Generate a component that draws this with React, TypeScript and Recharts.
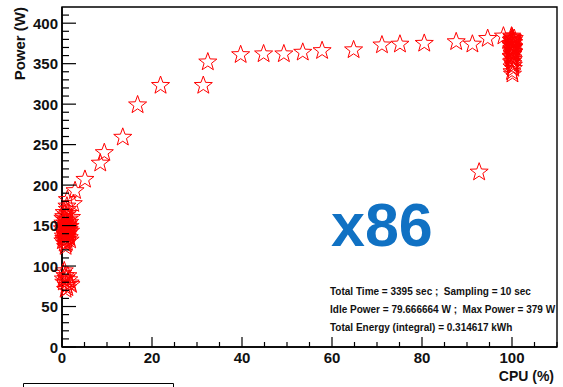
import React from "react";
import { ScatterChart, Scatter, XAxis, YAxis, ReferenceArea } from "recharts";

// Power vs. CPU utilisation samples (x86 node)
const rampCpu = [2.9, 5.1, 8.5, 9.4, 13.5, 16.8, 21.9, 31.4, 32.4, 39.7, 44.8, 49.3, 53.5, 57.8, 64.8, 71.1, 75.1, 80.5, 87.6, 91.2, 94.6, 98.1, 92.7, 1.2, 2.5];
const rampPower = [193, 207, 227, 240, 259, 299, 323, 323, 352, 361, 362, 362, 364, 366, 367, 373, 374, 375, 377, 374, 381, 384, 216, 182, 177];

const idleCpu = [0.3, 0.8, 1.1, 0.5, 1.6, 0.2, 0.9, 1.3, 0.6, 1.8, 0.4, 1.0, 1.4, 0.7, 0.1, 1.2, 1.9, 0.5, 0.8, 1.5, 0.3, 1.1, 0.6, 1.7, 0.9, 0.2, 1.3, 0.4, 1.0, 1.6, 0.7, 1.2, 0.5, 1.4, 0.8, 2.1, 0.3, 1.0, 1.8, 0.6, 1.1, 0.9, 1.5, 0.2, 1.3];
const idlePower = [142, 138, 151, 147, 135, 131, 156, 144, 128, 149, 161, 133, 140, 153, 146, 137, 143, 166, 124, 158, 150, 129, 141, 154, 136, 159, 148, 134, 163, 145, 139, 170, 132, 152, 145, 160, 137, 149, 132, 157, 174, 127, 142, 153, 165];

const lowCpu = [0.4, 1.0, 0.7, 1.5, 0.2, 1.2, 0.9, 1.8, 0.5, 1.3, 0.8, 2.0, 0.3];
const lowPower = [80, 76, 88, 83, 91, 73, 85, 79, 94, 88, 71, 77, 84];

const fullCpu = [100.0, 100.2, 99.8, 100.4, 100.1, 99.9, 100.3, 100.0, 100.5, 99.7, 100.2, 100.1, 99.9, 100.3, 100.0, 100.4, 99.8, 100.2, 100.1, 99.9, 100.0, 100.3, 100.1, 99.8, 100.4, 100.2, 100.0, 99.9, 100.3, 100.1, 100.0, 100.2, 99.9, 100.4, 100.1, 100.0, 100.3, 99.8];
const fullPower = [380, 372, 366, 376, 361, 384, 355, 369, 381, 374, 350, 378, 358, 365, 346, 371, 379, 362, 353, 368, 375, 344, 382, 359, 364, 377, 340, 372, 348, 367, 383, 357, 352, 370, 337, 363, 379, 373];

const xTicks = [0, 5, 10, 15, 20, 25, 30, 35, 40, 45, 50, 55, 60, 65, 70, 75, 80, 85, 90, 95, 100, 105, 110];
const yTicks = [0, 10, 20, 30, 40, 50, 60, 70, 80, 90, 100, 110, 120, 130, 140, 150, 160, 170, 180, 190, 200, 210, 220, 230, 240, 250, 260, 270, 280, 290, 300, 310, 320, 330, 340, 350, 360, 370, 380, 390, 400, 410];

const statLines = [
  "Total Time = 3395 sec ;  Sampling = 10 sec",
  "Idle Power = 79.666664 W ;  Max Power = 379 W",
  "Total Energy (integral) = 0.314617 kWh",
];

const pairs = (xs: number[], ys: number[]) => xs.map((cpu, i) => ({ cpu, power: ys[i] }));
const samples = [
  ...pairs(rampCpu, rampPower),
  ...pairs(idleCpu, idlePower),
  ...pairs(lowCpu, lowPower),
  ...pairs(fullCpu, fullPower),
];

const FONT = "'Liberation Sans', Arial, Helvetica, sans-serif";

function OpenStar(props: any) {
  const { cx, cy } = props;
  if (cx == null || cy == null) return null;
  const R = 9.5;
  const r = 3.9;
  const pts: string[] = [];
  for (let i = 0; i < 10; i++) {
    const rad = i % 2 === 0 ? R : r;
    const a = -Math.PI / 2 + (i * Math.PI) / 5;
    pts.push(`${cx + rad * Math.cos(a)},${cy + rad * Math.sin(a)}`);
  }
  return <polygon points={pts.join(" ")} fill="none" stroke="#ff0000" strokeWidth={1} />;
}

function YTick(props: any) {
  const { x, y, payload } = props;
  const v = payload.value;
  const major = v % 50 === 0;
  return (
    <g>
      <line x1={x} y1={y} x2={x + (major ? 14 : 7)} y2={y} stroke="#000" strokeWidth={1.2} />
      {major && (
        <text x={x - 4} y={y + 5.5} textAnchor="end" fontFamily={FONT} fontWeight="bold" fontSize={15} fill="#111">
          {v}
        </text>
      )}
    </g>
  );
}

function XTick(props: any) {
  const { x, y, payload } = props;
  const v = payload.value;
  const major = v % 20 === 0;
  return (
    <g>
      <line x1={x} y1={y} x2={x} y2={y - (major ? 10 : 5)} stroke="#000" strokeWidth={1.2} />
      {major && (
        <text x={x} y={y + 16} textAnchor="middle" fontFamily={FONT} fontWeight="bold" fontSize={15} fill="#111">
          {v}
        </text>
      )}
    </g>
  );
}

export default function App() {
  return (
    <div style={{ position: "absolute", left: 0, top: 0, width: 563, height: 387, overflow: "hidden", background: "#fff" }}>
      <ScatterChart width={563} height={387} margin={{ top: 7, right: 6, bottom: 0, left: 0 }}>
        <XAxis
          type="number"
          dataKey="cpu"
          domain={[0, 110]}
          ticks={xTicks}
          interval={0}
          height={40}
          tickSize={0}
          tickMargin={0}
          tickLine={false}
          tick={<XTick />}
          axisLine={{ stroke: "#000", strokeWidth: 1.6 }}
        />
        <YAxis
          type="number"
          dataKey="power"
          domain={[0, 420]}
          ticks={yTicks}
          interval={0}
          width={62}
          tickSize={0}
          tickMargin={0}
          tickLine={false}
          tick={<YTick />}
          axisLine={{ stroke: "#000", strokeWidth: 1.6 }}
        />
        <ReferenceArea x1={0} x2={110} y1={0} y2={420} fill="none" stroke="#000" strokeWidth={1.4} fillOpacity={0} />
        <Scatter data={samples} shape={<OpenStar />} isAnimationActive={false} />
      </ScatterChart>
      <svg width={563} height={387} style={{ position: "absolute", left: 0, top: 0, pointerEvents: "none" }}>
        <text
          transform="translate(25,7) rotate(-90)"
          textAnchor="end"
          fontFamily={FONT}
          fontWeight="bold"
          fontSize={15}
          fill="#111"
        >
          Power (W)
        </text>
        <text x={554} y={381} textAnchor="end" fontFamily={FONT} fontWeight="bold" fontSize={14} fill="#111">
          CPU (%)
        </text>
        <text x={331} y={246} fontFamily={FONT} fontWeight="bold" fontSize={61} fill="#1071c3">
          x86
        </text>
        {statLines.map((s, i) => (
          <text key={i} x={330} y={295 + i * 18} fontFamily={FONT} fontWeight="bold" fontSize={10} fill="#111" xmlSpace="preserve">
            {s}
          </text>
        ))}
        <polyline points="23.5,387 23.5,383.5 173.5,383.5 173.5,387" fill="none" stroke="#000" strokeWidth={1} />
      </svg>
    </div>
  );
}
